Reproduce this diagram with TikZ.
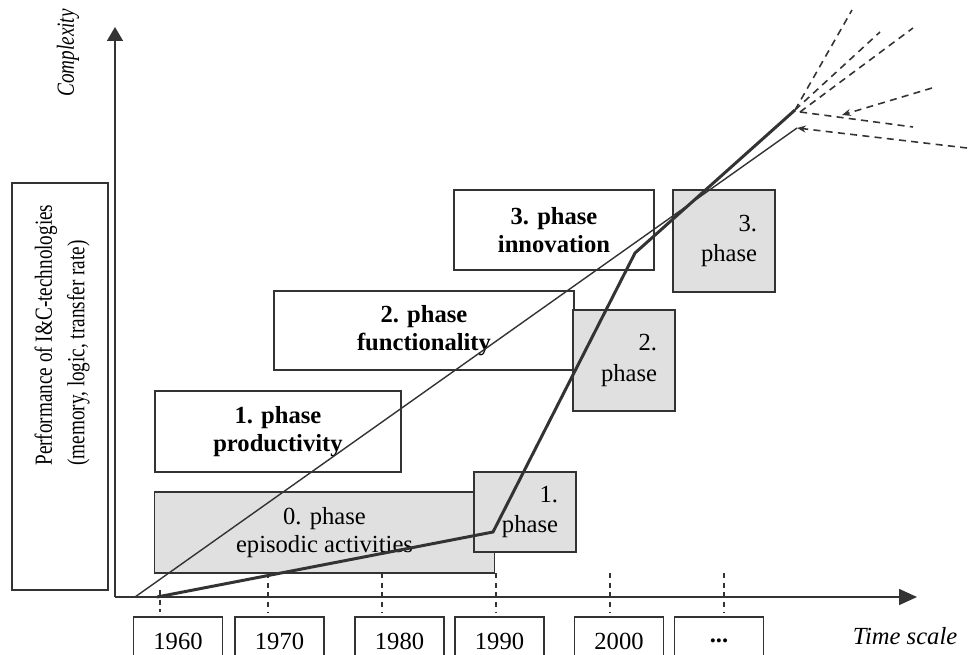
\documentclass[tikz,border=0pt]{standalone}
\usepackage{fontspec}
\setmainfont{Liberation Serif}
\newfontfamily\narrowserif[FakeStretch=0.78]{Liberation Serif}
\usetikzlibrary{arrows.meta}
\definecolor{ink}{gray}{0.2}
\definecolor{shade}{gray}{0.88}

\begin{document}
\begin{tikzpicture}[x=0.02cm, y=-0.02cm]
\useasboundingbox (0,0) rectangle (969,655);
\clip (0,0) rectangle (969,655);

% Axes
\coordinate (O) at (115,597);
\coordinate (Ytop) at (115,27);
\coordinate (Xend) at (917,597);
\draw[ink, line width=0.9pt, -{Triangle[length=0.28cm, width=0.32cm]}] (O) -- (Ytop);
\draw[ink, line width=0.9pt, -{Triangle[length=0.36cm, width=0.32cm]}] (O) -- (Xend);
\node[rotate=90, font=\narrowserif\fontsize{14}{16}\selectfont\itshape] (cplx) at (68,53) {Complexity};
\node[font=\fontsize{14}{16}\selectfont\itshape] (tscale) at (905,636) {Time scale};

% Performance box
\node[draw=ink, line width=0.7pt, minimum width=1.92cm, minimum height=8.14cm, inner sep=0pt] (perf) at (60,386.5) {};
\node[rotate=90, anchor=west, align=left, inner sep=0pt,
      font=\narrowserif\fontsize{14}{18.5}\selectfont] (perftxt) at (62,466)
      {Performance of I\&C-technologies\\(memory, logic, transfer rate)};

% Phase boxes
\begin{scope}[
		every node/.style = {draw = ink, line width = 0.7pt,
		inner sep = 0pt, align = center}]
	\node[fill = shade, minimum width = 6.8cm, minimum height = 1.62cm,
	      font = \fontsize{14}{16}\selectfont] (ph0) at (324.5,532.5) {0. phase\\episodic activities};
	\node[minimum width = 4.92cm, minimum height = 1.62cm,
	      font = \fontsize{14}{16}\selectfont\bfseries] (ph1) at (278,431.5) {1. phase\\productivity};
	\node[minimum width = 6cm, minimum height = 1.58cm,
	      font = \fontsize{14}{16}\selectfont\bfseries] (ph2) at (424,330.5) {2. phase\\functionality};
	\node[minimum width = 4cm, minimum height = 1.6cm,
	      font = \fontsize{14}{16}\selectfont\bfseries] (ph3) at (554,230) {3. phase\\innovation};
\end{scope}

% Short phase boxes
\begin{scope}[
		every node/.style = {draw = ink, line width = 0.7pt, fill = shade,
		align = right, text width = 1.32cm, inner xsep = 0.36cm, inner ysep = 0pt,
		font = \fontsize{14}{17.5}\selectfont}]
	\node[minimum height = 1.6cm] (sh1) at (525,512) {1.\\phase};
	\node[minimum height = 2.02cm] (sh2) at (624,360.5) {2.\\phase};
	\node[minimum height = 2.04cm] (sh3) at (724,241) {3.\\phase};
\end{scope}

% Years
\begin{scope}[
		every node/.style = {draw = ink, line width = 0.7pt, inner sep = 0pt,
		minimum width = 1.78cm, minimum height = 0.96cm,
		font = \fontsize{14}{16}\selectfont}]
	\node (y60) at (178,641) {1960};
	\node (y70) at (279.5,641) {1970};
	\node (y80) at (399.5,641) {1980};
	\node (y90) at (499.5,641) {1990};
	\node (y00) at (619,641) {2000};
	\node (ydots) at (719,641) {\textbf{...}};
\end{scope}

% Ticks
\begin{scope}[every path/.style = {draw = ink, line width = 0.7pt, dash pattern = on 3pt off 2.5pt}]
	\path (160,590) -- (160,612);
	\foreach \x in {268,382,496,610,724}
		\path (\x,573) -- (\x,612);
\end{scope}

% Curves
\coordinate (k0) at (157,597);
\coordinate (k1) at (493,532);
\coordinate (k2) at (635,253);
\coordinate (k3) at (795,110);
\coordinate (s0) at (135,597);
\coordinate (s1) at (797,128);
\draw[ink, line width = 1.7pt] (k0) -- (k1) -- (k2) -- (k3);
\draw[ink, line width = 0.8pt] (s0) -- (s1);

% Outlook
\coordinate (f1) at (852,10);
\coordinate (f2) at (880,32);
\coordinate (f3) at (913,28);
\coordinate (f4) at (932,88);
\coordinate (f4e) at (842,115);
\coordinate (f5) at (913,127);
\coordinate (f6) at (967,148);
\begin{scope}[every path/.style = {draw = ink, line width = 0.9pt, dash pattern = on 4pt off 3pt}]
	\path (k3) -- (f1);
	\path (k3) -- (f2);
	\path (800,112) -- (f3);
	\path (800,112) -- (f5);
	\path[-{Stealth[length=5pt, width=4pt]}] (f4) -- (f4e);
	\path[-{Stealth[length=5pt, width=4pt]}] (f6) -- (s1);
\end{scope}
\end{tikzpicture}
\end{document}
